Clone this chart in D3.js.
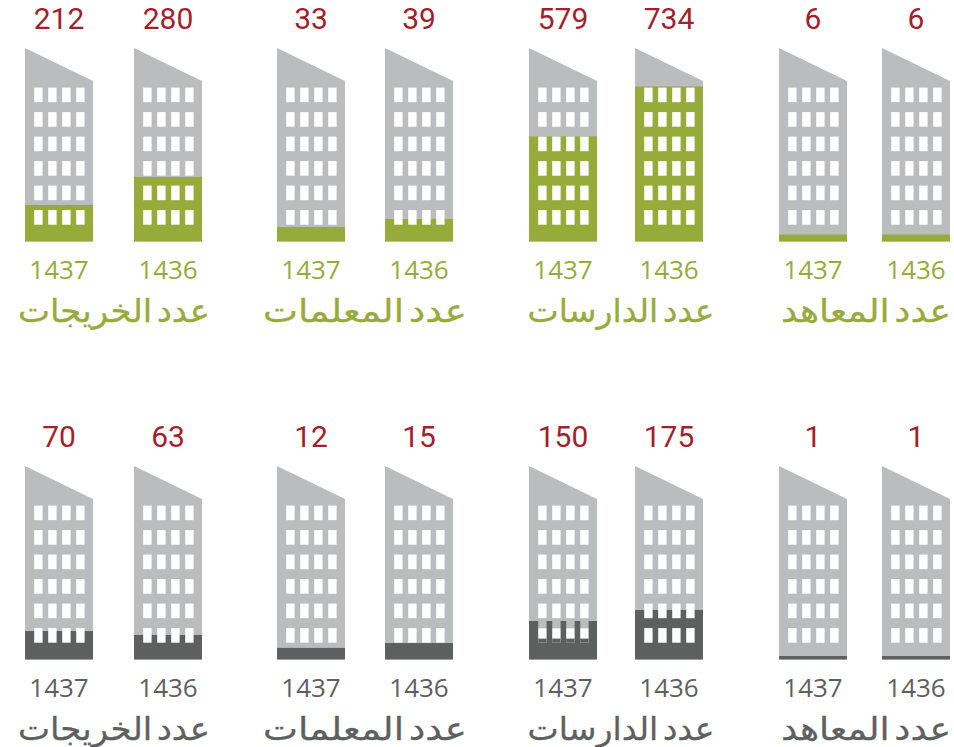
<!DOCTYPE html>
<html>
<head>
<meta charset="utf-8">
<script src="https://cdn.jsdelivr.net/npm/d3@7"></script>
<style>
html, body { margin: 0; padding: 0; background: #fff; }
svg { display: block; }
</style>
</head>
<body>
<div id="chart"></div>
<script>
// left to right as they appear in the picture
var titles = ["عدد الخريجات", "عدد المعلمات", "عدد الدارسات", "عدد المعاهد"];
var years = ["1437", "1436"];

var topValues = [212, 280, 33, 39, 579, 734, 6, 6];
var bottomValues = [70, 63, 12, 15, 150, 175, 1, 1];

// how high the colour reaches in each building, % of building height
var topLevels = [18.9, 33.3, 7.5, 11.6, 54.3, 80.1, 3.6, 3.6];
var bottomLevels = [14.7, 12.7, 6, 8.5, 19.9, 25.6, 1.8, 1.8];

var w = 954, h = 747;
var red = "#a31f2c", green = "#97ab3b", dark = "#5e5f5f", grey = "#bbbcbe";

var svg = d3.select("#chart").append("svg")
  .attr("width", w)
  .attr("height", h)
  .attr("viewBox", "0 0 " + w + " " + h);

var buildingX = [25, 134, 277, 385, 529, 635, 779, 882];
var titleX = [114, 365, 621, 866];
var titleW = [192, 204, 187, 170];
var bw = 68;

var colX = d3.scaleLinear().domain([0, 3]).range([9.2, 51.2]);
var rowY = d3.scaleLinear().domain([0, 5]).range([39.6, 162.1]);
var cols = d3.range(4), rows = d3.range(6);

function drawRow(offset, values, levels, colour, oddOne) {
  var g = svg.append("g").attr("transform", "translate(0," + offset + ")");
  var level = d3.scaleLinear().domain([0, 100]).range([241.5, 48]);

  var b = g.selectAll("g.building")
    .data(values)
    .enter().append("g")
    .attr("class", "building")
    .attr("transform", function (d, i) { return "translate(" + buildingX[i] + ",0)"; });

  b.append("path")
    .attr("d", "M0,48L" + bw + ",81V241.5H0Z")
    .attr("fill", grey);

  b.append("rect")
    .attr("y", function (d, i) { return level(levels[i]); })
    .attr("width", bw)
    .attr("height", function (d, i) { return 241.5 - level(levels[i]); })
    .attr("fill", colour);

  b.each(function () {
    d3.select(this).selectAll("rect.win")
      .data(d3.cross(cols, rows))
      .enter().append("rect")
      .attr("class", "win")
      .attr("x", function (d) { return colX(d[0]); })
      .attr("y", function (d) { return 48 + rowY(d[1]); })
      .attr("width", 8.4)
      .attr("height", 14.6)
      .attr("fill", "#fff");
  });

  // in this one the coloured layer's windows sit a little too high
  b.filter(function (d, i) { return i === oddOne; }).each(function (d, i) {
    var top = level(levels[oddOne]);
    var sel = d3.select(this);
    sel.selectAll("rect.notch")
      .data(cols)
      .enter().append("rect")
      .attr("class", "notch")
      .attr("x", function (c) { return colX(c); })
      .attr("y", top)
      .attr("width", 8.4)
      .attr("height", 48 + rowY(5) - top)
      .attr("fill", grey);
    sel.selectAll("rect.sill")
      .data(cols)
      .enter().append("rect")
      .attr("class", "sill")
      .attr("x", function (c) { return colX(c); })
      .attr("y", 48 + rowY(5) + 10.5)
      .attr("width", 8.4)
      .attr("height", 4.1)
      .attr("fill", colour);
  });

  b.append("text")
    .attr("x", bw / 2)
    .attr("y", 28.5)
    .attr("text-anchor", "middle")
    .attr("font-family", "Roboto")
    .attr("font-size", 30)
    .attr("fill", red)
    .text(function (d) { return d; });

  b.append("text")
    .attr("x", bw / 2)
    .attr("y", 279)
    .attr("text-anchor", "middle")
    .attr("font-family", "'Open Sans'")
    .attr("font-size", 26)
    .attr("fill", colour)
    .text(function (d, i) { return years[i % 2]; });

  g.selectAll("text.title")
    .data(titles)
    .enter().append("text")
    .attr("class", "title")
    .attr("x", function (d, i) { return titleX[i]; })
    .attr("y", 322)
    .attr("text-anchor", "middle")
    .attr("font-family", "'DejaVu Sans'")
    .attr("font-size", 32)
    .attr("direction", "rtl")
    .attr("word-spacing", -6)
    .attr("textLength", function (d, i) { return titleW[i]; })
    .attr("lengthAdjust", "spacingAndGlyphs")
    .attr("fill", colour)
    .attr("stroke", colour)
    .attr("stroke-width", 0.3)
    .text(function (d) { return d; });
}

drawRow(0, topValues, topLevels, green, -1);
drawRow(418, bottomValues, bottomLevels, dark, 4);
</script>
</body>
</html>
